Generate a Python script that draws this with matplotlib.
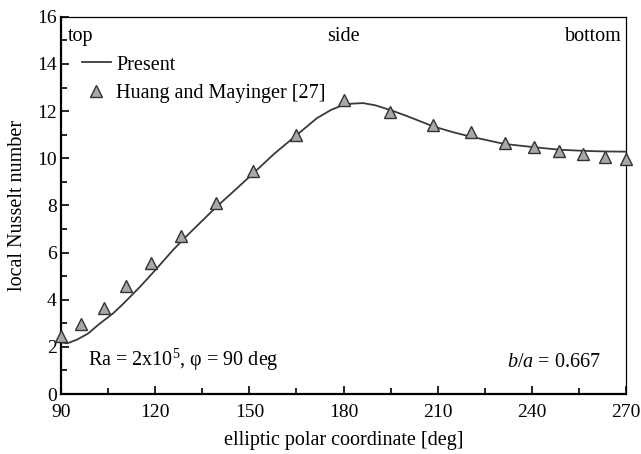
import matplotlib
matplotlib.use("Agg")
import matplotlib.pyplot as plt

# present numerical result (solid line)
present_x = [90, 92, 95, 98.7, 102, 106.6, 110, 115.2, 120, 125.7, 130, 139.6,
             145, 151.3, 158, 165.1, 171.5, 176, 180, 183, 186.2, 190, 194.8,
             200, 208.6, 215, 220.4, 231.1, 240.6, 249, 257.5, 263, 270]
present_nu = [2.2, 2.15, 2.3, 2.57, 2.95, 3.42, 3.85, 4.55, 5.25, 6.11, 6.7, 7.95,
              8.6, 9.37, 10.2, 10.99, 11.7, 12.05, 12.27, 12.32, 12.34, 12.25, 12.05,
              11.8, 11.35, 11.1, 10.92, 10.61, 10.47, 10.36, 10.31, 10.29, 10.28]

# Huang and Mayinger [27] (triangles)
exp_x = [90, 96.4, 103.7, 110.7, 118.7, 128.2, 139.4, 151.2, 164.9, 180.1,
         194.8, 208.5, 220.6, 231.4, 240.7, 248.6, 256.3, 263.3, 270]
exp_nu = [2.46, 2.97, 3.65, 4.58, 5.56, 6.71, 8.11, 9.47, 10.99, 12.48,
          11.97, 11.42, 11.12, 10.65, 10.48, 10.31, 10.19, 10.06, 9.97]

x_ticks = [90, 120, 150, 180, 210, 240, 270]
y_ticks = [0, 2, 4, 6, 8, 10, 12, 14, 16]

plt.rcParams["font.family"] = ["Liberation Serif", "DejaVu Serif"]
plt.rcParams["mathtext.fontset"] = "custom"
plt.rcParams["mathtext.rm"] = "Liberation Serif"
plt.rcParams["mathtext.it"] = "Liberation Serif:italic"

fs = 14.5

fig = plt.figure(figsize=(6.41, 4.54), dpi=100)
ax = fig.add_axes([0.095, 0.132, 0.882, 0.831])

ax.plot(present_x, present_nu, color="#3a3a3a", lw=1.3, label="Present")
ax.plot(exp_x, exp_nu, ls="none", marker="^", ms=8.5, mfc="#a8a8a8",
        mec="#333333", mew=1.0, label="Huang and Mayinger [27]", clip_on=False,
        zorder=5)

ax.set_xlim(90, 270)
ax.set_ylim(0, 16)
ax.set_xticks(x_ticks)
ax.set_yticks(y_ticks)
ax.set_xticks(range(105, 270, 30), minor=True)
ax.set_yticks(range(1, 16, 2), minor=True)
ax.tick_params(which="both", direction="in", top=False, right=False,
               labelsize=14, width=1.2)
ax.tick_params(which="major", length=6)
ax.tick_params(which="minor", length=4)
ax.tick_params(axis="x", pad=7)
ax.tick_params(axis="y", pad=3)
for side in ["left", "bottom"]:
    ax.spines[side].set_linewidth(1.6)
for side in ["top", "right"]:
    ax.spines[side].set_linewidth(0.9)

ax.set_xlabel("elliptic polar coordinate [deg]", fontsize=fs, labelpad=7)
ax.set_ylabel("local Nusselt number", fontsize=fs, labelpad=7)

ax.text(0.012, 0.972, "top", transform=ax.transAxes, fontsize=fs, va="top", ha="left")
ax.text(0.5, 0.972, "side", transform=ax.transAxes, fontsize=fs, va="top", ha="center")
ax.text(0.992, 0.972, "bottom", transform=ax.transAxes, fontsize=fs, va="top", ha="right")

ax.text(0.048, 0.09, r"Ra = 2x10$^5$, φ = 90 deg", transform=ax.transAxes,
        fontsize=fs, va="center", ha="left")
ax.text(0.955, 0.085, r"$\mathit{b/a}$ = 0.667", transform=ax.transAxes,
        fontsize=fs, va="center", ha="right")

ax.legend(loc="upper left", bbox_to_anchor=(0.012, 0.935), frameon=False,
          fontsize=fs, handlelength=1.45, handletextpad=0.25, labelspacing=0.45,
          borderaxespad=0.3)

fig.savefig("out.png", dpi=100)
